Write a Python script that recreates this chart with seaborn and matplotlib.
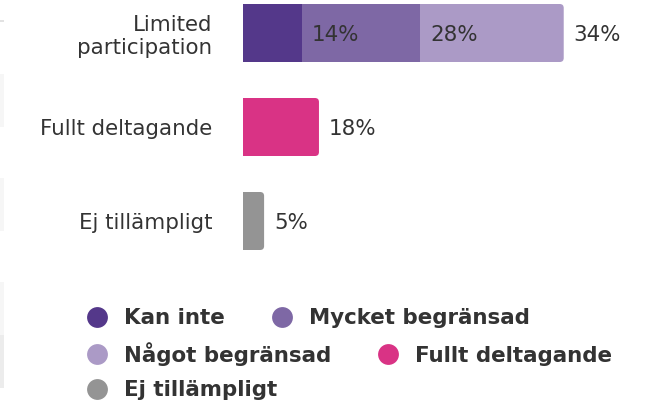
import matplotlib
matplotlib.use("Agg")
import matplotlib.pyplot as plt
from matplotlib.patches import FancyBboxPatch, Rectangle
from matplotlib.lines import Line2D
import pandas as pd
import seaborn as sns

# Data
rows = ["Limited\nparticipation", "Limited\nparticipation", "Limited\nparticipation",
        "Fullt deltagande", "Ej tillämpligt"]
segments = ["Kan inte", "Mycket begränsad", "Något begränsad",
            "Fullt deltagande", "Ej tillämpligt"]
values = [14, 28, 34, 18, 5]
row_order = ["Limited\nparticipation", "Fullt deltagande", "Ej tillämpligt"]
colors = ["#54388a", "#7e68a5", "#ab9ac6", "#d93385", "#949494"]
legend_rows = [["Kan inte", "Mycket begränsad"],
               ["Något begränsad", "Fullt deltagande"],
               ["Ej tillämpligt"]]

df = pd.DataFrame({"row": rows, "segment": segments, "value": values})
df["end"] = df.groupby("row", sort=False)["value"].cumsum()
palette = dict(zip(segments, colors))

TEXT = "#333333"
FS = 15.4

sns.set_style("white")
plt.rcParams["font.family"] = ["DejaVu Sans"]

fig = plt.figure(figsize=(6.52, 4.07), dpi=100)
W, H = 652, 407
ax = fig.add_axes([243 / W, (H - 254) / H, (W - 243) / W, 254 / H])

# Stacked bars: each segment is drawn as a bar to its cumulative end
sns.barplot(data=df, x="end", y="row", hue="segment", hue_order=segments,
            order=row_order, palette=palette, dodge=False, width=0.617,
            orient="h", legend=False, ax=ax, errorbar=None, saturation=1,
            linewidth=0)

px_per_unit = 4.22
ax.set_xlim(0, (W - 243) / px_per_unit)
ax.set_ylim(2 + (254 - 221) / 94, -33 / 94)

patches = [p for c in ax.containers for p in c.patches if p.get_width() > 0]
# Shorter cumulative bars sit on top of longer ones
for p in patches:
    p.set_zorder(3 - p.get_width() / 1000)

# Round the right end of each row's outermost segment
r_x = 4 / px_per_unit
aspect = (1 / 94) / (1 / px_per_unit)
for row_idx in range(len(row_order)):
    in_row = [p for p in patches
              if abs(p.get_y() + p.get_height() / 2 - row_idx) < 0.01]
    if not in_row:
        continue
    outer = max(in_row, key=lambda p: p.get_width())
    x0, y0 = outer.get_x(), outer.get_y()
    w, h = outer.get_width(), outer.get_height()
    rounded = FancyBboxPatch((x0, y0), w, h,
                             boxstyle=f"round,pad=0,rounding_size={r_x}",
                             mutation_aspect=aspect, facecolor=outer.get_facecolor(),
                             edgecolor="none", linewidth=0, transform=ax.transData,
                             zorder=outer.get_zorder())
    ax.add_patch(rounded)
    outer.set_width(max(w - r_x, 0))

# Value labels just past each segment end
for _, rec in df.iterrows():
    yi = row_order.index(rec["row"])
    ax.annotate(f"{rec['value']}%", xy=(rec["end"], yi), xytext=(10, 0),
                textcoords="offset pixels", ha="left", va="center_baseline",
                fontsize=FS, color=TEXT, zorder=5)

for s in ax.spines.values():
    s.set_visible(False)
ax.set_xticks([])
ax.set_xlabel("")
ax.set_ylabel("")
ax.tick_params(axis="y", length=0, pad=22.3, labelsize=FS, labelcolor=TEXT)
ax.set_facecolor("white")

# Legend, laid out row by row
row_centers = [318, 354, 390]
for names, yc in zip(legend_rows, row_centers):
    handles = [Line2D([], [], linestyle="none", marker="o", markersize=15,
                      markerfacecolor=palette[n], markeredgewidth=0) for n in names]
    leg = fig.legend(handles, names, loc="center left",
                     bbox_to_anchor=(86.5 / W, 1 - yc / H), ncol=len(names),
                     frameon=False, borderpad=0, borderaxespad=0,
                     handlelength=1.0, handletextpad=0.76, columnspacing=2.15,
                     prop={"size": FS, "weight": "bold"})
    for t in leg.get_texts():
        t.set_color(TEXT)

# Faint page-edge panels on the left margin
for y0, y1, col in [(20, 22, "#e2e2e2"), (74, 127, "#f6f6f6"), (178, 231, "#f6f6f6"),
                    (282, 335, "#f6f6f6"), (335, 388, "#ececec")]:
    fig.patches.append(Rectangle((0, 1 - y1 / H), 4 / W, (y1 - y0) / H,
                                 transform=fig.transFigure, facecolor=col,
                                 edgecolor="none", zorder=0))

fig.savefig("out.png", dpi=100, facecolor="white")
